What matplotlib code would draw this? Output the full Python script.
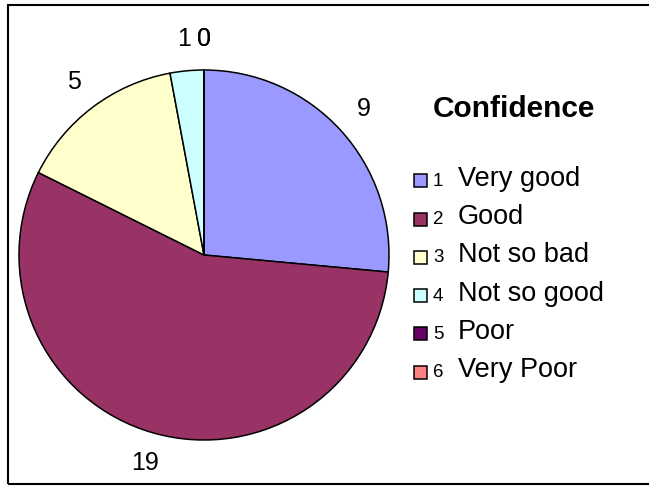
import matplotlib
matplotlib.use("Agg")
import matplotlib.pyplot as plt
from matplotlib.patches import Rectangle

plt.rcParams['font.family'] = ['Liberation Sans', 'DejaVu Sans']

# survey answers for "Confidence"
codes = ["1", "2", "3", "4", "5", "6"]
categories = ["Very good", "Good", "Not so bad", "Not so good", "Poor", "Very Poor"]
counts = [9, 19, 5, 1, 0, 0]
colors = ["#9999FF", "#993366", "#FFFFCC", "#CCFFFF", "#660066", "#FF8080"]

W, H = 649, 486
fig = plt.figure(figsize=(W / 100, H / 100), dpi=100)

# outer chart frame
fig.patches.append(Rectangle((8 / W, 1 - 484 / H), 700 / W, (484 - 5.5) / H,
                             transform=fig.transFigure, fill=False,
                             edgecolor="black", linewidth=1.5))

# pie centred at (204, 255) px with radius 185 px
cx, cy, r = 204, 255, 185
ax = fig.add_axes([(cx - r) / W, (H - cy - r) / H, 2 * r / W, 2 * r / H])
wedges, texts = ax.pie(counts, colors=colors, startangle=90, counterclock=False,
                       labels=[str(c) for c in counts], labeldistance=1.17,
                       wedgeprops=dict(edgecolor="black", linewidth=1.1),
                       textprops=dict(fontsize=18))
for t in texts:
    t.set_ha("center")
    t.set_va("center")
ax.set_xlim(-1, 1)
ax.set_ylim(-1, 1)
ax.set_aspect("equal")

# legend drawn by hand: small code number then the category name
fig.text(514 / W, 1 - 117 / H, "Confidence", fontsize=21.5, fontweight="bold",
         ha="center", va="baseline")
baseline0, step = 186, 38.2
for i, (code, name, col) in enumerate(zip(codes, categories, colors)):
    yb = baseline0 + i * step
    fig.patches.append(Rectangle((413.5 / W, 1 - (yb + 1.5) / H), 13 / W, 13 / H,
                                 transform=fig.transFigure, facecolor=col,
                                 edgecolor="black", linewidth=1.1))
    fig.text(433 / W, 1 - yb / H, code, fontsize=13.5, ha="left", va="baseline")
    fig.text(458 / W, 1 - yb / H, name, fontsize=19.5, ha="left", va="baseline")

fig.savefig("out.png", dpi=100)
